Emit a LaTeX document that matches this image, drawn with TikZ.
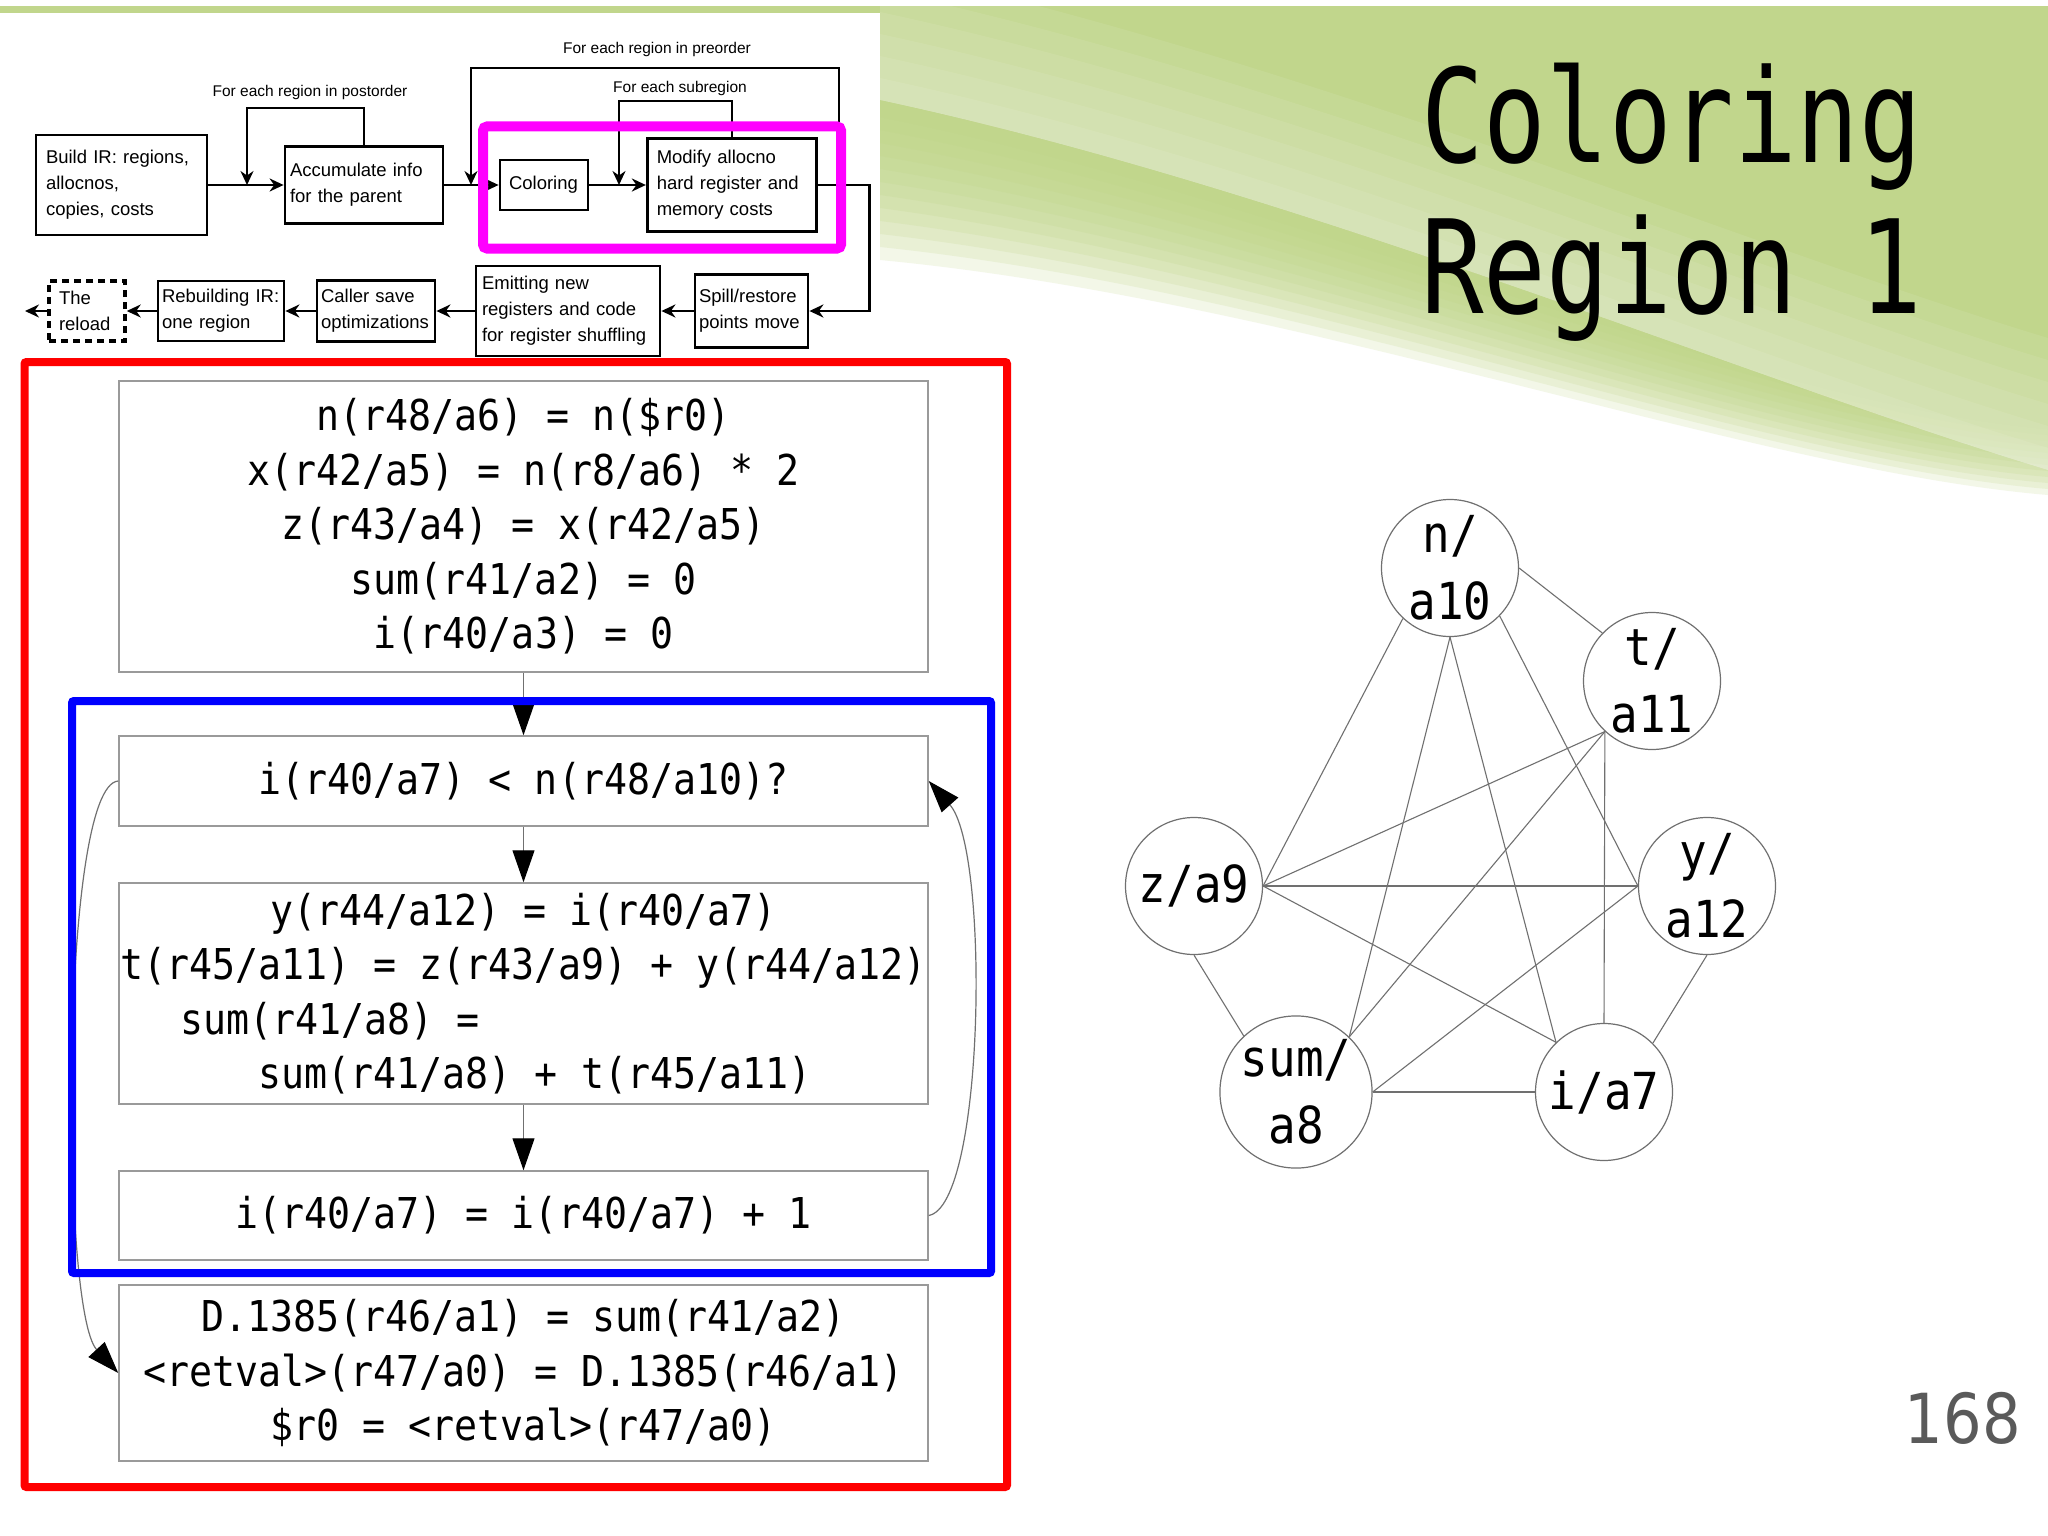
\documentclass[tikz,border=0pt]{standalone}
\usepackage{fontspec}
\usepackage{tikz}
\usetikzlibrary{arrows.meta, positioning}
\newfontfamily\flowfont{Liberation Sans}
\newfontfamily\codefont[FakeStretch=0.9]{DejaVu Sans Mono}
\newfontfamily\graphfont[FakeStretch=0.9]{DejaVu Sans Mono}
\newfontfamily\titlefont[FakeStretch=0.8]{DejaVu Sans Mono}
\newfontfamily\pagefont[FakeStretch=0.88]{DejaVu Sans}
\definecolor{slideGreen}{HTML}{BDD483}
\definecolor{mMagenta}{HTML}{FF00FF}
\definecolor{mRed}{HTML}{FF0000}
\definecolor{mBlue}{HTML}{0000FF}
\definecolor{boxGray}{HTML}{9A9A9A}
\definecolor{edgeGray}{HTML}{707070}
\definecolor{pageGray}{HTML}{5A5A5A}

\begin{document}
\begin{tikzpicture}[x=1pt, y=-1pt,
  stage/.style={draw, line width=2.8pt, align=left, inner ysep=0pt,
                font=\flowfont\fontsize{18.5}{26}\selectfont},
  looplabel/.style={inner sep=0pt, font=\flowfont\fontsize{15.5}{18}\selectfont},
  flow/.style={line width=2.8pt, -{Stealth[length=14pt, width=13pt]}},
  codebox/.style={draw=boxGray, line width=1.5pt, minimum width=809pt, align=center,
                  inner sep=0pt, font=\codefont\fontsize{42.5}{54.5}\selectfont},
  codeedge/.style={draw=edgeGray, line width=1.2pt,
                   -{Triangle[length=32pt, width=22pt, color=black]}},
  var/.style={circle, draw=edgeGray, line width=1.2pt, minimum size=137pt, inner sep=0pt,
              align=center, font=\graphfont\fontsize{51}{67}\selectfont},
  gedge/.style={draw=edgeGray, line width=1.1pt},
]
\useasboundingbox (0,0) rectangle (2048,1536);
\fill[white] (0,0) rectangle (2048,1536);

% slide background
\begin{scope}
  \clip (0,7) rectangle (2048,1536);
  \foreach \k in {0,...,11}
    \fill[slideGreen, opacity=0.18] (0,0) -- (2048,0) -- (2048,{495-\k*6})
      .. controls (1750,{470-\k*6}) and (1300,{300-\k*9}) .. (880,{260-\k*13})
      -- (0,{260-\k*13}) -- cycle;
  \foreach \k in {1,...,6}
    \fill[white, opacity=0.08] (880,100) .. controls (1300,190) and (1750,380) .. (2048,470)
      -- (2048,{470-\k*22}) .. controls (1750,{380-\k*22}) and (1300,{190-\k*22}) .. (880,{100-\k*22}) -- cycle;
\end{scope}
\fill[white] (0,13) rectangle (880,362);

% allocator pipeline
\node[stage, text width=151pt, inner xsep=10pt, minimum height=100pt] (build) at (121.5,185) {Build IR: regions,\\allocnos,\\copies, costs};
\node[stage, text width=148pt, inner xsep=5pt, minimum height=77pt] (accum) at (364,185) {Accumulate info\\for the parent};
\node[stage, text width=70pt, inner xsep=9pt, minimum height=50pt] (color) at (544,185) {Coloring};
\node[stage, text width=150.5pt, inner xsep=9.5pt, minimum height=93pt] (modify) at (732,185) {Modify allocno\\hard register and\\memory costs};
\node[stage, text width=105pt, inner xsep=4pt, minimum height=73pt] (spill) at (751.5,311) {Spill/restore\\points move};
\node[stage, text width=172pt, inner xsep=6pt, minimum height=90pt] (emit) at (568,311) {Emitting new\\registers and code\\for register shuffling};
\node[stage, text width=110pt, inner xsep=4pt, minimum height=61pt] (caller) at (376,311) {Caller save\\optimizations};
\node[stage, text width=118pt, inner xsep=4pt, minimum height=60pt] (rebuild) at (221,311) {Rebuilding IR:\\one region};
\node[stage, line width=3.5pt, dash pattern=on 7pt off 5pt, text width=56pt, inner xsep=10pt, minimum height=60pt] (reload) at (87,311) {The\\reload};

\node[looplabel] (preLabel) at (657,49) {For each region in preorder};
\node[looplabel] (subLabel) at (680,88) {For each subregion};
\node[looplabel] (postLabel) at (310,92) {For each region in postorder};

\coordinate (postJoin) at (247,185);
\coordinate (preJoin) at (471,185);
\coordinate (preTurn) at (839,185);
\coordinate (subJoin) at (619,185);
\coordinate (exitEnd) at (25,311);

\draw[flow] (build.east) -- (accum.west);
\draw[flow] (accum.east) -- (color.west);
\draw[flow] (color.east) -- (modify.west);
\draw[flow] (accum.north) -- ++(0,-37) -| (postJoin);
\draw[flow] (preTurn) -- ++(0,-117) -| (preJoin);
\draw[flow] (modify.north) -- ++(0,-36) -| (subJoin);
\draw[flow] (modify.east) -- ++(51,0) |- (spill.east);
\draw[flow] (spill.west) -- (emit.east);
\draw[flow] (emit.west) -- (caller.east);
\draw[flow] (caller.west) -- (rebuild.east);
\draw[flow] (rebuild.west) -- (reload.east);
\draw[flow] (reload.west) -- (exitEnd);

\draw[mMagenta, line width=10pt, rounded corners=4pt] (483,126.5) rectangle (841,248.5);

% region 1 code
\node[codebox, minimum height=291pt] (b1) at (523.5,526.5) {n(r48/a6) = n(\$r0)\\x(r42/a5) = n(r8/a6) * 2\\z(r43/a4) = x(r42/a5)\\sum(r41/a2) = 0\\i(r40/a3) = 0};
\node[codebox, minimum height=90pt] (b2) at (523.5,781) {i(r40/a7) < n(r48/a10)?};
\node[codebox, minimum height=221pt] (b3) at (523.5,993.5) {y(r44/a12) = i(r40/a7)\\t(r45/a11) = z(r43/a9) + y(r44/a12)\\\rlap{\hspace{60pt}sum(r41/a8) =}\phantom{t(r45/a11) = z(r43/a9) + y(r44/a12)}\\\phantom{s}sum(r41/a8) + t(r45/a11)};
\node[codebox, minimum height=89pt] (b4) at (523.5,1215.5) {i(r40/a7) = i(r40/a7) + 1};
\node[codebox, minimum height=176pt] (b5) at (523.5,1373) {D.1385(r46/a1) = sum(r41/a2)\\<retval>(r47/a0) = D.1385(r46/a1)\\\$r0 = <retval>(r47/a0)};

\draw[codeedge] (b1) -- (b2);
\draw[codeedge] (b2) -- (b3);
\draw[codeedge] (b3) -- (b4);
\draw[codeedge] (b4.east) .. controls (985,1205) and (990,850) .. (b2.east);
\draw[codeedge] (b2.west) .. controls (60,785) and (60,1310) .. (b5.west);

\draw[mBlue, line width=8pt, rounded corners=2pt] (72,701) rectangle (991,1273);
\draw[mRed, line width=8pt, rounded corners=2pt] (24.5,362) rectangle (1007,1487);

% conflict graph
\node[var] (vN) at (1450,568) {n/\\a10};
\node[var] (vT) at (1652,681) {t/\\a11};
\node[var] (vY) at (1707,886) {y/\\a12};
\node[var] (vI) at (1604,1092) {i/a7};
\node[var] (vSum) at (1296,1092) {sum/\\a8};
\node[var] (vZ) at (1194,886) {z/a9};

\foreach \a/\b in {vN.east/vT.136, vN.227/vZ.east, vN.south/vSum.46, vN.south/vI.134,
                   vN.-44/vY.west, vT.227/vZ.east, vT.227/vSum.46, vT.227/vI.north,
                   vZ.east/vY.west, vZ.east/vI.134, vZ.south/vSum.133, vY.west/vSum.east,
                   vY.south/vI.45, vSum.east/vI.west}
  \draw[gedge] (\a) -- (\b);

\node[anchor=base west, inner sep=0pt, font=\titlefont\fontsize{130}{150}\selectfont] (titleTop) at (1421,163) {Coloring};
\node[anchor=base west, inner sep=0pt, font=\titlefont\fontsize{130}{150}\selectfont] (titleBottom) at (1421,313) {Region 1};
\node[anchor=base east, inner sep=0pt, text=pageGray, font=\pagefont\fontsize{69}{69}\selectfont] (pageNo) at (2021,1443) {168};
\end{tikzpicture}
\end{document}
